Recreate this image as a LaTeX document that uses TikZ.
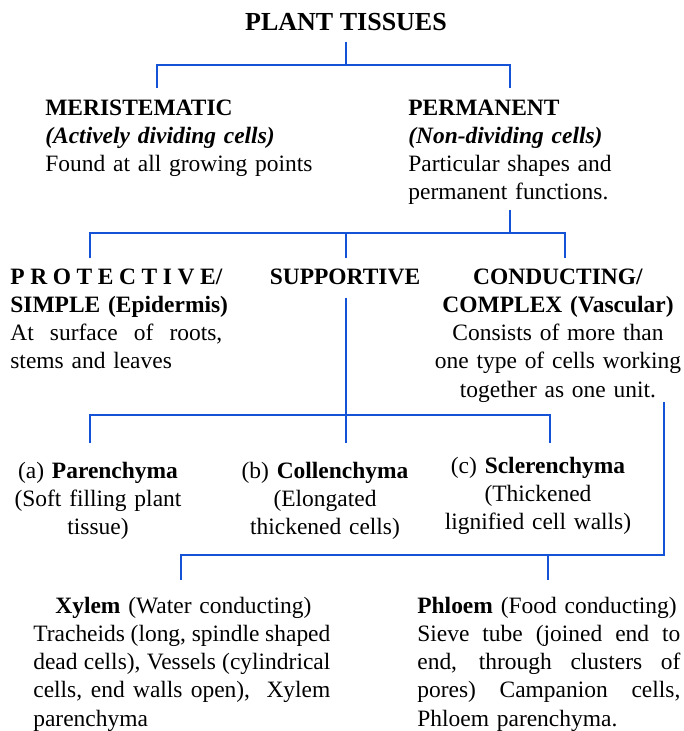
\documentclass[tikz,border=0pt]{standalone}
\usepackage{fontspec}
\setmainfont{Liberation Serif}
\usepackage{xcolor}
\usepackage{tikz}
\usetikzlibrary{positioning,calc}
\definecolor{treeblue}{HTML}{1553D6}
\newcommand{\txtsize}{\fontsize{13.35}{16.1}\selectfont}
\newcommand{\ttlsize}{\fontsize{14.8}{17}\selectfont}
\newcommand{\jline}[2]{\makebox[#1][s]{\spaceskip=0.25em plus 1fil minus 0.06em\relax #2}}

\begin{document}
\begin{tikzpicture}[x=0.2mm, y=-0.2mm,
  link/.style={draw=treeblue, line width=1.6pt},
  blk/.style={inner sep=0pt, anchor=base west, align=left, font=\txtsize},
  cblk/.style={inner sep=0pt, anchor=base, align=center, font=\txtsize}
]
\useasboundingbox (0,0) rectangle (683,731);

\node[inner sep=0pt, anchor=base, font=\ttlsize\bfseries] (tt) at (346,30) {PLANT TISSUES};

\node[blk, text width=6cm] (mer) at (45,115) {\textbf{MERISTEMATIC}\\ \textbf{\textit{(Actively dividing cells)}}\\ Found at all growing points};
\node[blk, text width=5.5cm] (per) at (408,115) {\textbf{PERMANENT}\\ \textbf{\textit{(Non-dividing cells)}}\\ Particular shapes and\\ permanent functions.};

\node[blk, text width=5cm] (pro) at (10,284) {\makebox[4.24cm]{\bfseries P\hfill R\hfill O\hfill T\hfill E\hfill C\hfill T\hfill I\hfill V\hfill E/}\\ \textbf{SIMPLE (Epidermis)}\\ \jline{4.24cm}{At surface of roots,}\\ stems and leaves};
\node[cblk] (sup) at (345,284) {\textbf{SUPPORTIVE}};
\node[cblk, text width=6cm] (con) at (558,284) {\textbf{CONDUCTING/}\\ \textbf{COMPLEX (Vascular)}\\ Consists of more than\\ one type of cells working\\ together as one unit.};

\node[cblk, text width=4.2cm] (par) at (98,478) {(a) \textbf{Parenchyma}\\ (Soft filling plant\\ tissue)};
\node[cblk, text width=4.2cm] (col) at (325,478) {(b) \textbf{Collenchyma}\\ (Elongated\\ thickened cells)};
\node[cblk, text width=4.4cm] (scl) at (538,473) {(c) \textbf{Sclerenchyma}\\ (Thickened\\ lignified cell walls)};

\node[blk, text width=6.5cm] (xyl) at (33,613) {\hspace*{0.44cm}\textbf{Xylem} (Water conducting)\\ \jline{5.94cm}{Tracheids (long, spindle shaped}\\ \jline{5.94cm}{dead cells), Vessels (cylindrical}\\ \jline{5.94cm}{cells, end walls open),\ \ Xylem}\\ parenchyma};
\node[blk, text width=6cm] (phl) at (417,613) {\textbf{Phloem} (Food conducting)\\ \jline{5.26cm}{Sieve tube (joined end to}\\ \jline{5.26cm}{end, through clusters of}\\ \jline{5.26cm}{pores) Campanion cells,}\\ Phloem parenchyma.};

% tree joints
\coordinate (tt-s) at (346,42);
\coordinate (j1) at (346,65);
\coordinate (mer-n) at (157,88);
\coordinate (per-n) at (510,88);
\coordinate (per-s) at (510,210);
\coordinate (j2) at (510,233);
\coordinate (pro-n) at (90,258);
\coordinate (sup-n) at (346,258);
\coordinate (con-n) at (565,258);
\coordinate (sup-s) at (346,298);
\coordinate (j3) at (346,415);
\coordinate (par-n) at (90,443);
\coordinate (col-n) at (346,443);
\coordinate (scl-n) at (550,443);
\coordinate (con-s) at (664,402);
\coordinate (j4) at (664,555);
\coordinate (xyl-n) at (181,580);
\coordinate (phl-n) at (548,580);

\draw[link] (tt-s) -- (j1);
\draw[link] (mer-n) |- (j1) -| (per-n);
\draw[link] (per-s) -- (j2);
\draw[link] (pro-n) |- (j2) -| (con-n);
\draw[link] (sup-n) -- (sup-n |- j2);
\draw[link] (sup-s) -- (col-n);
\draw[link] (par-n) |- (j3) -| (scl-n);
\draw[link] (con-s) -- (j4) -| (xyl-n);
\draw[link] (phl-n) -- (phl-n |- j4);
\end{tikzpicture}
\end{document}
